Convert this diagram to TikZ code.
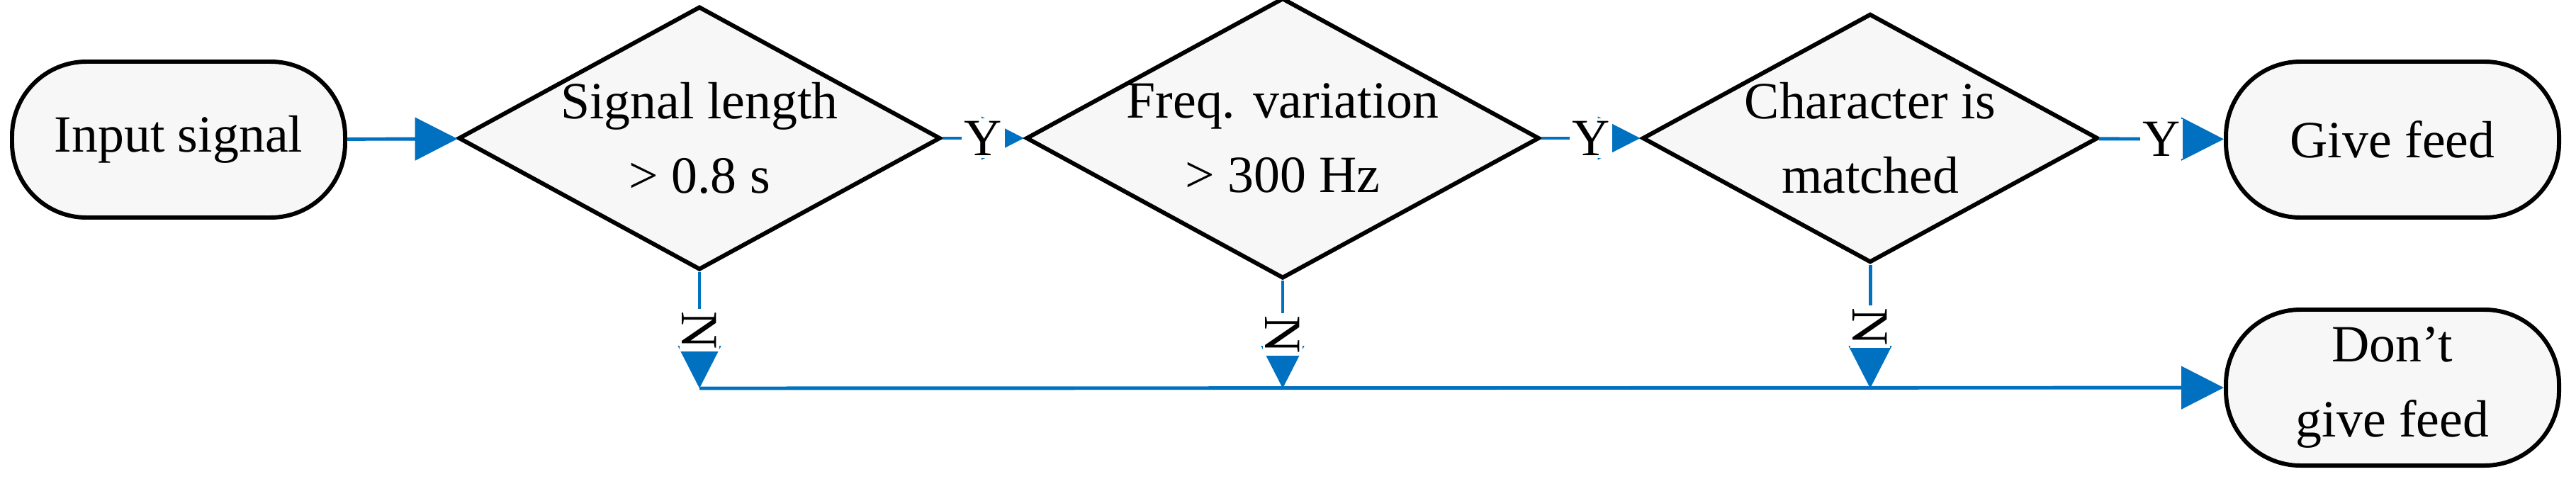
\documentclass[tikz,border=0pt]{standalone}
\usepackage{fontspec}
\setmainfont{Liberation Serif}
\usetikzlibrary{shapes.geometric,arrows.meta}
\definecolor{flowblue}{HTML}{0070C0}
\definecolor{boxgray}{HTML}{F7F7F7}
\tikzset{
    term/.style={draw, line width=1.7pt, fill=boxgray, rounded corners=1.05cm, minimum width=4.7cm, minimum height=2.2cm, align=center, font=\fontsize{21}{30}\selectfont},
    test/.style={draw, line width=1.7pt, fill=boxgray, diamond, aspect=1.83, inner sep=0pt, minimum width=6.43cm, minimum height=3.51cm, align=center, font=\fontsize{21}{30}\selectfont},
    flow/.style={draw=flowblue, line width=1.4pt, -{Triangle[length=0.6cm,width=0.6cm]}},
    lab/.style={fill=white, inner sep=1pt, font=\fontsize{21}{24}\selectfont}
}
\begin{document}
\begin{tikzpicture}
        \useasboundingbox (0,0) rectangle (36.35,-6.75);
        \node[term] (In) at (2.52,-1.97) {Input signal};
        \node[test] (D1) at (9.87,-1.95) {Signal length\\> 0.8 s};
        \node[test] (D2) at (18.10,-1.95) {Freq. variation\\> 300 Hz};
        \node[test] (D3) at (26.39,-1.95) {Character is\\matched};
        \node[term] (Yes) at (33.76,-1.97) {Give feed};
        \node[term] (No) at (33.76,-5.47) {Don't\\give feed};
        \coordinate (J1) at (9.87,-5.48);
        \coordinate (J2) at (18.10,-5.48);
        \coordinate (J3) at (26.39,-5.48);
        \draw[flow] (In) -- (D1);
        \draw[flow] (D1) -- node[lab] {Y} (D2);
        \draw[flow] (D2) -- node[lab] {Y} (D3);
        \draw[flow] (D3) -- node[lab] {Y} (Yes);
        \draw[flow] (D1.south) -- node[lab, rotate=-90] {N} (J1);
        \draw[flow] (D2.south) -- node[lab, rotate=-90] {N} (J2);
        \draw[flow] (D3.south) -- node[lab, rotate=-90] {N} (J3);
        \draw[flow] (J1) -- (No);
    \end{tikzpicture}
\end{document}
